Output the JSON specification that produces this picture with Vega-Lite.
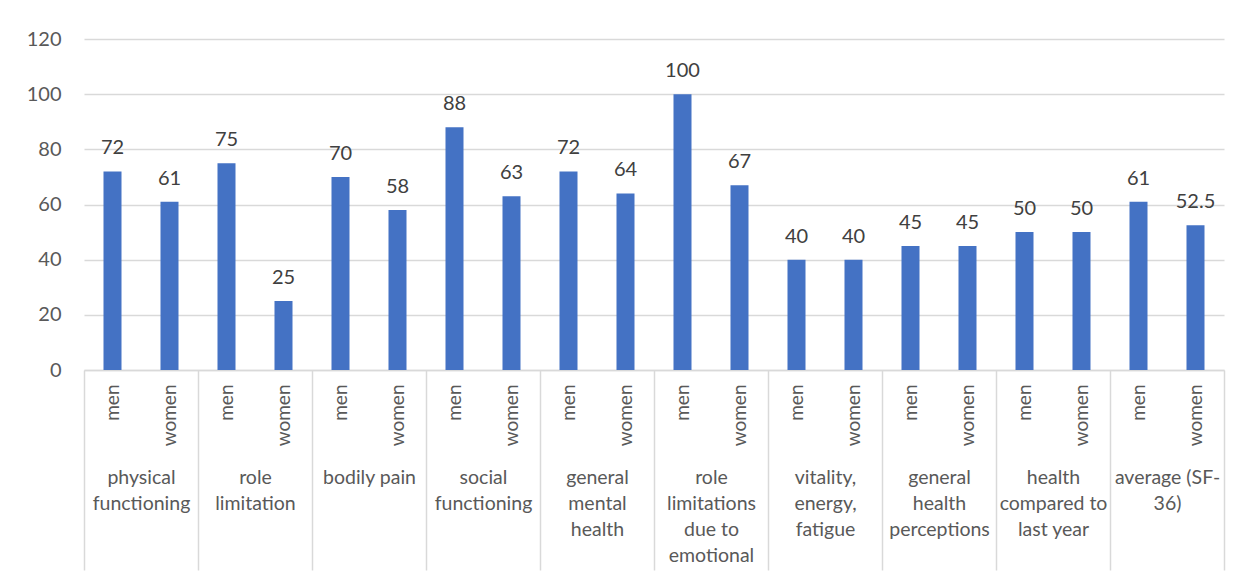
{
  "$schema": "https://vega.github.io/schema/vega-lite/v6.json",
  "width": 1140,
  "height": 331,
  "autosize": "none",
  "padding": {"left": 84, "top": 39, "right": 18, "bottom": 208},
  "background": "white",
  "config": {"font": "Lato", "view": {"stroke": null}},
  "data": {
    "values": [
      {"group": "physical\nfunctioning", "sex": "men", "score": 72},
      {"group": "physical\nfunctioning", "sex": "women", "score": 61},
      {"group": "role\nlimitation", "sex": "men", "score": 75},
      {"group": "role\nlimitation", "sex": "women", "score": 25},
      {"group": "bodily pain", "sex": "men", "score": 70},
      {"group": "bodily pain", "sex": "women", "score": 58},
      {"group": "social\nfunctioning", "sex": "men", "score": 88},
      {"group": "social\nfunctioning", "sex": "women", "score": 63},
      {"group": "general\nmental\nhealth", "sex": "men", "score": 72},
      {"group": "general\nmental\nhealth", "sex": "women", "score": 64},
      {"group": "role\nlimitations\ndue to\nemotional", "sex": "men", "score": 100},
      {"group": "role\nlimitations\ndue to\nemotional", "sex": "women", "score": 67},
      {"group": "vitality,\nenergy,\nfatigue", "sex": "men", "score": 40},
      {"group": "vitality,\nenergy,\nfatigue", "sex": "women", "score": 40},
      {"group": "general\nhealth\nperceptions", "sex": "men", "score": 45},
      {"group": "general\nhealth\nperceptions", "sex": "women", "score": 45},
      {"group": "health\ncompared to\nlast year", "sex": "men", "score": 50},
      {"group": "health\ncompared to\nlast year", "sex": "women", "score": 50},
      {"group": "average (SF-\n36)", "sex": "men", "score": 61},
      {"group": "average (SF-\n36)", "sex": "women", "score": 52.5}
    ]
  },
  "transform": [{"calculate": "datum.group + '|' + datum.sex", "as": "bar"}],
  "layer": [
    {
      "encoding": {
        "x": {
          "field": "bar",
          "type": "nominal",
          "sort": null,
          "scale": {"paddingInner": 0.684, "paddingOuter": 0.342},
          "axis": {
            "orient": "bottom",
            "title": null,
            "domain": false,
            "ticks": false,
            "labelAngle": -90,
            "labelExpr": "split(datum.value, '|')[1]",
            "labelFontSize": 19,
            "labelColor": "#595959",
            "labelPadding": 14,
            "labelOverlap": false
          }
        },
        "y": {
          "field": "score",
          "type": "quantitative",
          "scale": {"domain": [0, 120], "nice": false},
          "axis": {
            "title": null,
            "values": [0, 20, 40, 60, 80, 100, 120],
            "domain": false,
            "ticks": false,
            "grid": true,
            "gridColor": "#d9d9d9",
            "gridWidth": 1.5,
            "labelFontSize": 20,
            "labelColor": "#595959",
            "labelPadding": 23
          }
        }
      },
      "layer": [
        {"mark": {"type": "bar", "color": "#4472C4"}},
        {
          "mark": {"type": "text", "dy": -17, "baseline": "alphabetic", "fontSize": 20, "color": "#404040"},
          "encoding": {"text": {"field": "score", "type": "quantitative"}}
        }
      ]
    },
    {
      "mark": {"type": "bar", "opacity": 0},
      "encoding": {
        "x": {
          "field": "group",
          "type": "nominal",
          "sort": null,
          "scale": {"paddingInner": 0, "paddingOuter": 0},
          "axis": {
            "orient": "bottom",
            "title": null,
            "domainColor": "#d9d9d9",
            "domainWidth": 1.5,
            "tickBand": "extent",
            "tickSize": 200,
            "tickColor": "#d9d9d9",
            "tickWidth": 1.5,
            "labelAngle": 0,
            "labelBaseline": "top",
            "labelExpr": "isValid(datum.value) ? split(datum.value, '\\n') : ''",
            "labelFontSize": 19.5,
            "labelLineHeight": 26,
            "labelColor": "#595959",
            "labelPadding": -102,
            "labelOverlap": false
          }
        }
      }
    }
  ],
  "resolve": {"scale": {"x": "independent"}}
}
